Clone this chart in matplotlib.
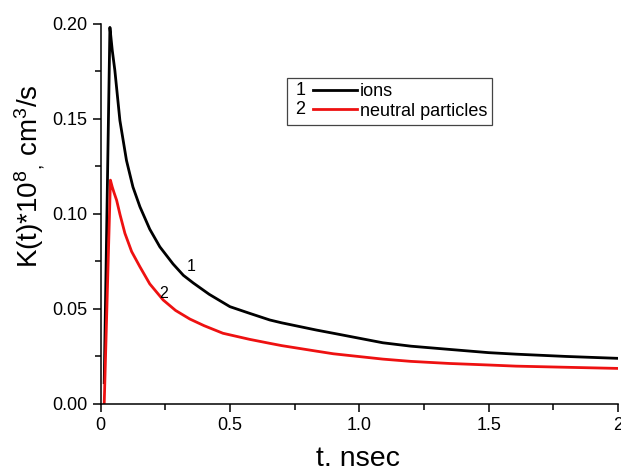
import numpy as np
import matplotlib
matplotlib.use("Agg")
import matplotlib.pyplot as plt
from matplotlib.legend_handler import HandlerBase
from matplotlib.lines import Line2D
from matplotlib.text import Text

plt.rcParams['font.family'] = ['Liberation Sans', 'DejaVu Sans']
plt.rcParams['mathtext.fontset'] = 'custom'
plt.rcParams['mathtext.rm'] = 'Liberation Sans'
plt.rcParams['mathtext.it'] = 'Liberation Sans:italic'

# values
t_ions = [0.014, 0.036, 0.045, 0.055, 0.0746, 0.100, 0.125, 0.152, 0.190, 0.229,
          0.280, 0.320, 0.358, 0.420, 0.500, 0.576, 0.654, 0.700, 0.834, 0.900,
          1.091, 1.200, 1.349, 1.500, 1.606, 1.800, 2.0]
k_ions = [0.011, 0.198, 0.186, 0.1755, 0.149, 0.128, 0.114, 0.1036, 0.0918, 0.0825,
          0.0735, 0.0675, 0.0635, 0.0575, 0.051, 0.0475, 0.044, 0.0425, 0.0387, 0.037,
          0.032, 0.0302, 0.0285, 0.0268, 0.026, 0.0248, 0.0238]

t_neut = [0.014, 0.038, 0.045, 0.052, 0.062, 0.075, 0.094, 0.120, 0.152, 0.190,
          0.242, 0.290, 0.345, 0.400, 0.473, 0.576, 0.654, 0.700, 0.834, 0.900,
          1.091, 1.200, 1.349, 1.500, 1.606, 1.800, 2.0]
k_neut = [0.0, 0.1176, 0.114, 0.111, 0.107, 0.0995, 0.0896, 0.080, 0.072, 0.063,
          0.0545, 0.049, 0.0445, 0.041, 0.037, 0.0338, 0.0317, 0.0305, 0.0276, 0.0262,
          0.0234, 0.0222, 0.0211, 0.0203, 0.0197, 0.0191, 0.0185]

labels = ['ions', 'neutral particles']
numbers = ['1', '2']
colors = ['black', '#ee1111']


class NumberedLine(HandlerBase):
    """legend entry: number, then a short line"""
    def create_artists(self, legend, orig_handle, xdescent, ydescent,
                       width, height, fontsize, trans):
        num, color = orig_handle
        y = height / 2 - ydescent
        txt = Text(-xdescent + 0.05 * width, y, num, ha='left', va='center',
                   fontsize=fontsize, transform=trans)
        ln = Line2D([-xdescent + 0.33 * width, width - xdescent], [y, y],
                    color=color, lw=2, transform=trans)
        return [txt, ln]


fig = plt.figure(figsize=(6.21, 4.72), dpi=100)
ax = fig.add_axes([0.162, 0.145, 0.833, 0.805])

ax.plot(t_ions, k_ions, color=colors[0], lw=2)
ax.plot(t_neut, k_neut, color=colors[1], lw=2)

ax.text(0.35, 0.072, numbers[0], fontsize=11.5, ha='center', va='center')
ax.text(0.245, 0.058, numbers[1], fontsize=11.5, ha='center', va='center')

ax.set_xlim(0, 2)
ax.set_ylim(0, 0.2)
ax.set_xticks([0, 0.5, 1.0, 1.5, 2])
ax.set_xticklabels(['0', '0.5', '1.0', '1.5', '2'])
ax.set_xticks([0.25, 0.75, 1.25, 1.75], minor=True)
ax.set_yticks([0, 0.05, 0.10, 0.15, 0.20])
ax.set_yticklabels(['0.00', '0.05', '0.10', '0.15', '0.20'])
ax.set_yticks([0.025, 0.075, 0.125, 0.175], minor=True)
ax.tick_params(which='major', length=6, width=1.1, labelsize=13, pad=3.5, direction='out')
ax.tick_params(which='minor', length=4, width=1.1, direction='out')
for side in ['top', 'right']:
    ax.spines[side].set_visible(False)
for side in ['left', 'bottom']:
    ax.spines[side].set_linewidth(1.1)

# axis titles placed where the original has them
fig.text(357.5 / 621, 1 - 459 / 472, 't. nsec', fontsize=20.5, ha='center', va='center')
fig.text(30 / 621, 1 - 176.5 / 472, 'K(t)*10$^{8}$$_{,}$ cm$^{3}$/s', fontsize=20,
         ha='center', va='center', rotation=90)

handles = [(numbers[0], colors[0]), (numbers[1], colors[1])]
leg = ax.legend(handles, labels, handler_map={tuple: NumberedLine()},
                loc='upper left', bbox_to_anchor=(0.36, 0.856), borderaxespad=0,
                fontsize=13, handlelength=3.6, handletextpad=0.15,
                labelspacing=0.12, borderpad=0.28, fancybox=False,
                framealpha=1, edgecolor='#444444')
leg.get_frame().set_linewidth(0.9)

fig.savefig('out.png', dpi=100)
